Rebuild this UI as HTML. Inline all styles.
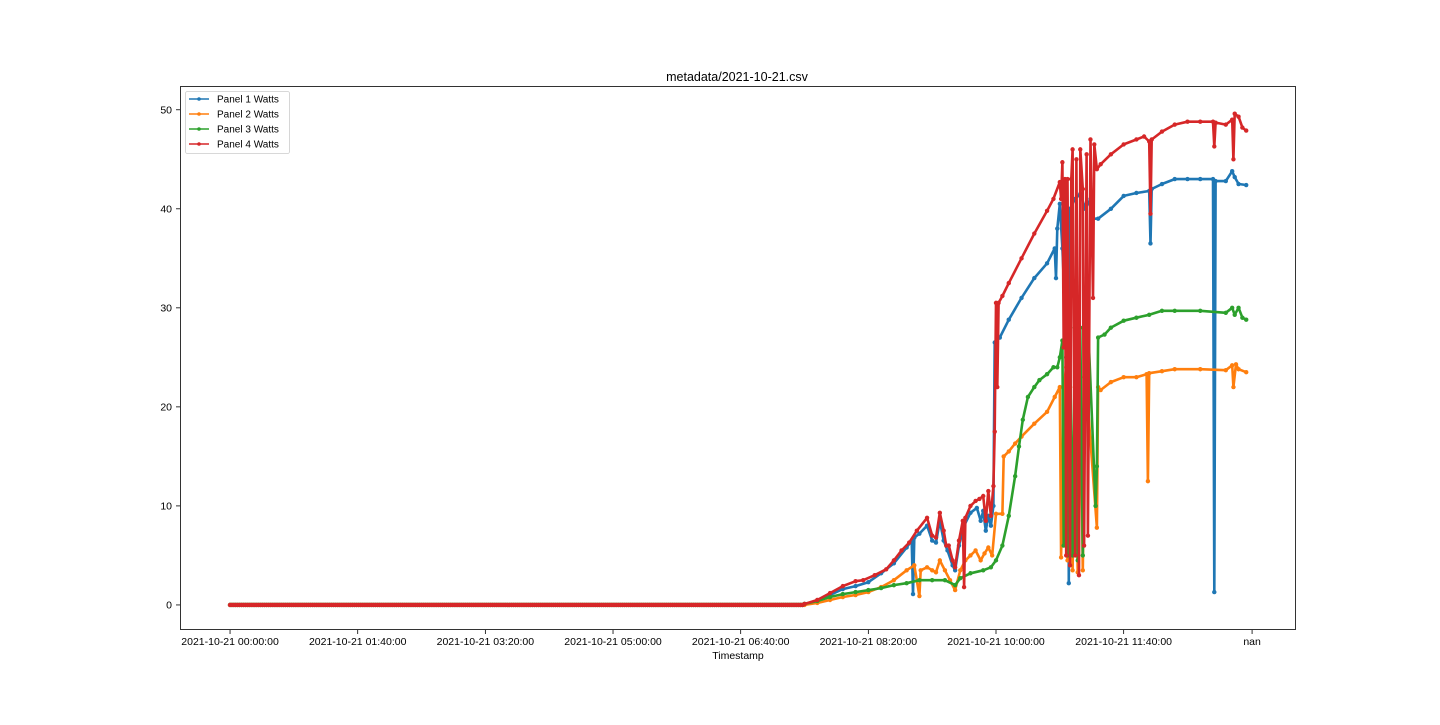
<!DOCTYPE html>
<html><head><meta charset="utf-8"><style>
body{margin:0;background:#fff;}
svg text{font-family:"Liberation Sans","DejaVu Sans",sans-serif;}
</style></head><body>
<svg id="chart" width="1440" height="720">
<rect width="1440" height="720" fill="#fff"/>
<text x="737" y="81" font-size="12.5" text-anchor="middle">metadata/2021-10-21.csv</text>
<g id="plot"></g>
<rect x="180.5" y="86.5" width="1115" height="543" fill="none" stroke="#000" stroke-width="0.8"/>
<text x="738" y="659" font-size="10.5" text-anchor="middle">Timestamp</text>
<g id="legend"></g>
</svg>
<script>
const xTickMinutes=[0,100,200,300,400,500,600,700,800.6];
const xTickLabels=["2021-10-21 00:00:00","2021-10-21 01:40:00","2021-10-21 03:20:00","2021-10-21 05:00:00","2021-10-21 06:40:00","2021-10-21 08:20:00","2021-10-21 10:00:00","2021-10-21 11:40:00","nan"];
const yTicks=[0,10,20,30,40,50];
const seriesNames=["Panel 1 Watts","Panel 2 Watts","Panel 3 Watts","Panel 4 Watts"];
const p1T=[450,460,470,480,490,500,510,520,530,534,535,536,540,546,550,553,556,559,562,566,568,571,575,580,585,588,590,592,594,596,598,599,603,610,620,630,640,646,647,648,650,652,654,656,657,658,662,666,670,674,676,680,690,700,710,720,721,722,730,740,750,760,770,771,772,780,785,787,790,796];
const p1V=[0.1,0.4,1.0,1.6,1.9,2.3,3.2,4.2,5.8,6.5,1.1,6.8,7.2,8.0,6.5,6.3,8.5,6.5,5.5,4.0,3.5,6.0,8.0,9.3,9.8,8.5,9.5,7.5,9.0,8.0,10,26.5,27,28.8,31,33,34.5,36,33,38,40.5,36,30,40,2.2,40,41,41.5,40,41,39,39,40,41.3,41.6,41.8,36.5,42,42.5,43,43,43,43,1.3,42.8,42.8,43.8,43.2,42.5,42.4];
const p2T=[450,460,470,480,490,500,510,520,530,536,540,541,546,550,553,556,560,564,568,572,576,580,584,588,591,594,597,600,605,606,610,615,620,630,640,646,650,651,653,655,656,658,660,662,664,666,668,670,679,680,682,690,700,710,718,719,720,730,740,760,780,785,786,788,790,796];
const p2V=[0,0.2,0.5,0.8,1.0,1.3,1.8,2.5,3.5,4.0,0.9,3.5,3.8,3.5,3.3,4.5,3.5,2.5,1.5,3.5,4.5,5.0,5.5,4.5,5.2,5.8,5.0,9.2,9.2,15,15.5,16.3,17,18.3,19.5,21,22,4.8,22,24,4.5,22,3.5,23,3.3,23,3.5,23.5,7.8,22,21.7,22.5,23,23,23.3,12.5,23.4,23.6,23.8,23.8,23.7,24.2,22,24.3,23.8,23.5];
const p3T=[450,460,470,480,490,500,510,520,530,540,550,560,568,572,580,590,596,600,605,610,615,618,621,625,630,634,640,645,648,650,652,653,655,656,658,660,662,664,666,668,670,672,678,679,680,685,690,700,710,720,730,740,760,780,785,787,790,793,796];
const p3V=[0.1,0.4,0.8,1.1,1.3,1.5,1.7,2.0,2.2,2.5,2.5,2.5,2.0,2.7,3.2,3.5,3.8,4.5,6,9,13,16,18.7,21,22,22.7,23.3,24,24,25,26.7,6,25,5,28,5,28.5,4.5,28,5,28,28.7,10,14,27,27.3,28,28.7,29,29.3,29.7,29.7,29.7,29.5,30,29.3,30,29,28.8];
const p4T=[450,460,470,480,490,496,505,514,520,526,532,538,546,550,553,556,559,561,563,566,568,571,574,575,576,580,584,587,590,592,594,596,598,599,600,601,602,605,610,620,630,640,645,650,651,652,653,654,655,656,658,659,660,662,663,665,666,668,669,671,672,674,676,677,679,682,690,700,710,716,720,721,722,730,740,750,760,770,771,772,780,785,786,787,790,793,796];
const p4V=[0.1,0.5,1.2,1.9,2.4,2.5,3.0,3.6,4.5,5.5,6.3,7.5,8.8,7.0,6.8,9.3,7.5,6.0,6.0,4.5,3.8,6.5,8.5,1.8,8.8,10.0,10.5,10.7,11.0,8.5,11.5,9.0,12,17.5,30.5,22,30.5,31.2,32.5,35,37.5,39.8,41,42.7,41,44.7,26,43,5,43,4,43,46,5,45,3,46,42,6,45.5,7,47,31,46.5,44,44.5,45.5,46.5,47,47.3,46.8,39.5,47,47.8,48.5,48.8,48.8,48.8,46.3,48.7,48.5,49,45,49.6,49.3,48.2,47.9];
const zeroT=[];for(let m=0;m<450;m+=1.5)zeroT.push(m);
const colors=["#1f77b4","#ff7f0e","#2ca02c","#d62728"];
const NS="http://www.w3.org/2000/svg";
const X0=180,X1=1296,Y0=86,Y1=630,xMin=-39.2,xMax=835,yMin=-2.53,yMax=52.4;
function xs(t){return X0+(t-xMin)/(xMax-xMin)*(X1-X0);}
function ys(v){return Y1-(v-yMin)/(yMax-yMin)*(Y1-Y0);}
function mk(tag,attrs,parent){const e=document.createElementNS(NS,tag);for(const k in attrs)e.setAttribute(k,attrs[k]);parent.appendChild(e);return e;}
const svg=document.getElementById('chart');const plot=document.getElementById('plot');
xTickMinutes.forEach((m,i)=>{const x=xs(m);
const t=mk('line',{x1:x,x2:x,y1:630,y2:634,stroke:'#000','stroke-width':0.8},svg);


const l=mk('text',{x:x,y:645,'font-size':10.5,'text-anchor':'middle'},svg);l.textContent=xTickLabels[i];

});
yTicks.forEach(v=>{const y=ys(v);
const t=mk('line',{x1:176,x2:180,y1:y,y2:y,stroke:'#000','stroke-width':0.8},svg);


const l=mk('text',{x:172,y:y+3.5,'font-size':10.5,'text-anchor':'end'},svg);l.textContent=v;

});
const allT=[p1T,p2T,p3T,p4T],allV=[p1V,p2V,p3V,p4V];
allT.forEach((T,s)=>{
const tt=zeroT.concat(T),vv=zeroT.map(()=>0).concat(allV[s]);
const g=mk('g',{},plot);


const d=tt.map((t,i)=>(i?'L':'M')+xs(t).toFixed(1)+','+ys(vv[i]).toFixed(1)).join('');
const p=mk('path',{d:d,fill:'none',stroke:colors[s],'stroke-width':2.6,'stroke-linejoin':'round'},g);


tt.forEach((t,i)=>{const c=mk('circle',{cx:xs(t),cy:ys(vv[i]),r:2.2,fill:colors[s]},g);

});
});
const lg=document.getElementById('legend');
const box=mk('rect',{x:185.5,y:91.5,width:104,height:62,rx:2,fill:'#fff',stroke:'#ccc','stroke-width':0.8},lg);


seriesNames.forEach((n,i)=>{const y=99+i*15;
const e=mk('g',{},lg);


mk('line',{x1:189,x2:209,y1:y,y2:y,stroke:colors[i],'stroke-width':1.5},e);
mk('circle',{cx:199,cy:y,r:1.8,fill:colors[i]},e);
const t=mk('text',{x:217,y:y+3.5,'font-size':10},e);t.textContent=n;});
</script>
</body></html>
